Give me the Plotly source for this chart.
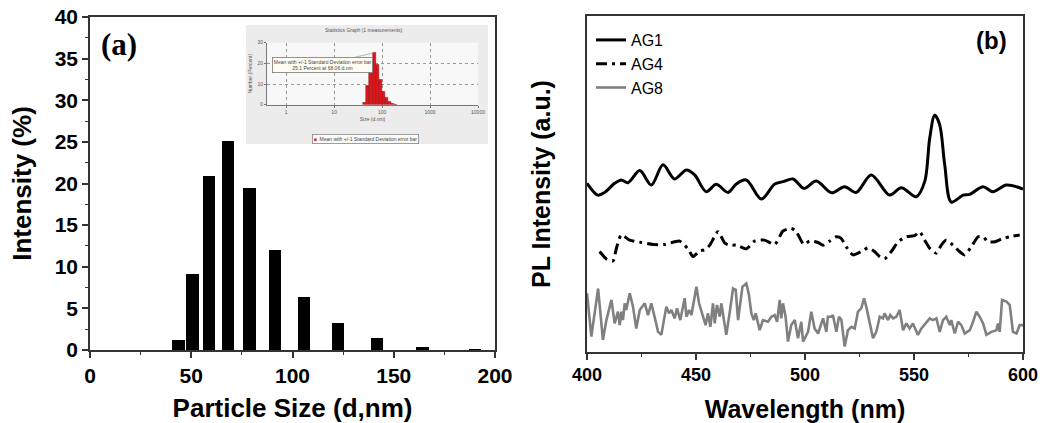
import numpy as np
import plotly.graph_objects as go

# ---------------- Panel (a): particle size distribution ----------------
size_nm = [43.82, 50.75, 58.77, 68.06, 78.82, 91.28, 105.7, 122.4, 141.8, 164.2, 190.1]
intensity_pct = [1.2, 9.1, 20.9, 25.1, 19.5, 12.0, 6.4, 3.2, 1.5, 0.4, 0.05]
a_xticks = [0, 50, 100, 150, 200]
a_yticks = [0, 5, 10, 15, 20, 25, 30, 35, 40]
inset_xticks = [0, 1, 2, 3, 4]
inset_xticklabels = ["1", "10", "100", "1000", "10000"]

# ---------------- Panel (b): PL spectra ----------------
ag1_wl = [400.0, 405.0, 408.1, 412.7, 415.7, 418.8, 424.2, 429.5, 434.9, 440.2, 445.6, 449.4,
          454.7, 459.3, 464.7, 468.5, 473.1, 480.0, 486.1, 489.9, 494.5, 499.5, 505.2, 512.1,
          518.2, 523.5, 530.4, 538.8, 544.2, 551.0, 554.9, 557.2, 559.5, 561.8, 564.1, 567.1,
          572.5, 575.5, 581.7, 586.2, 592.4, 600.0]
ag1_pl = [50.2, 46.7, 47.5, 50.2, 51.2, 50.4, 54.0, 49.7, 55.7, 51.5, 54.2, 52.7,
          47.7, 49.9, 47.5, 50.0, 51.2, 45.5, 50.0, 50.7, 51.5, 48.7, 50.9, 47.4,
          49.2, 47.5, 52.7, 46.7, 48.9, 46.2, 50.7, 63.6, 70.5, 67.6, 55.7, 44.6,
          46.7, 46.9, 49.2, 47.7, 49.7, 48.5]

ag4_wl = [405.8, 408.9, 411.9, 413.5, 415.7, 419.6, 424.9, 430.3, 435.6, 442.5, 446.3, 448.6,
          451.7, 454.0, 456.3, 460.1, 463.2, 465.5, 468.5, 473.1, 476.9, 481.5, 486.1, 489.9,
          493.7, 496.0, 499.5, 502.1, 506.0, 508.3, 511.3, 514.4, 516.6, 518.9, 522.0, 525.8,
          528.9, 531.9, 534.2, 536.5, 539.6, 542.7, 546.5, 550.3, 552.6, 554.9, 557.2, 560.2,
          562.5, 564.8, 567.9, 570.9, 573.2, 576.3, 579.4, 581.7, 583.9, 587.0, 590.8, 593.9,
          598.5]
ag4_pl = [29.9, 27.7, 27.1, 30.9, 34.8, 33.3, 32.6, 32.0, 32.0, 33.0, 30.7, 28.4,
          30.1, 30.4, 31.8, 35.8, 32.4, 31.8, 31.8, 30.7, 33.0, 33.3, 32.0, 36.0,
          36.8, 35.8, 32.0, 33.0, 32.6, 31.8, 33.0, 34.3, 33.8, 31.3, 28.9, 29.9,
          31.0, 29.9, 28.4, 27.7, 29.9, 32.8, 34.3, 34.6, 35.8, 33.3, 30.9, 29.4,
          31.8, 33.3, 31.8, 29.9, 28.9, 31.3, 34.3, 34.3, 32.8, 32.8, 33.8, 34.3,
          34.8]

ag8_wl = [400.0, 402.0, 405.1, 407.3, 408.9, 411.2, 412.7, 414.2, 415.0, 415.8, 416.5, 417.3,
          418.0, 419.6, 421.1, 422.6, 424.2, 426.5, 428.0, 429.5, 431.0, 432.6, 434.1, 435.2,
          436.4, 437.6, 438.7, 440.2, 441.3, 442.8, 444.0, 444.8, 445.6, 446.8, 447.9, 450.2,
          451.4, 453.2, 454.4, 455.5, 456.6, 457.8, 458.6, 459.6, 460.9, 461.6, 463.9, 465.4,
          467.0, 468.2, 469.3, 471.3, 473.1, 474.3, 475.4, 476.5, 477.4, 479.2, 480.7, 483.0,
          484.6, 486.1, 487.2, 488.4, 489.1, 489.9, 491.1, 492.2, 493.7, 495.3, 496.8, 498.3,
          499.1, 501.4, 502.9, 504.4, 506.0, 507.5, 508.3, 509.8, 510.5, 512.1, 512.8, 514.4,
          515.6, 516.7, 518.2, 519.7, 521.3, 522.8, 524.3, 525.8, 527.1, 528.1, 529.7, 531.2,
          532.7, 534.3, 535.8, 536.5, 538.1, 539.1, 540.4, 541.9, 543.4, 545.0, 546.5, 548.0,
          549.5, 551.8, 553.4, 555.7, 557.2, 558.7, 560.3, 561.8, 563.3, 564.8, 566.4, 567.1,
          568.7, 570.2, 571.7, 573.3, 575.6, 577.1, 578.6, 580.1, 581.7, 583.2, 585.5, 587.8,
          588.5, 589.3, 590.4, 592.4, 593.9, 595.4, 597.0, 598.5, 600.0]
ag8_pl = [17.5, 4.6, 18.9, 3.6, 9.5, 15.5, 8.5, 12.0, 8.0, 12.0, 9.5, 14.5,
          12.5, 17.5, 13.5, 7.0, 12.5, 14.5, 11.0, 14.5, 10.5, 6.0, 5.1, 9.0,
          13.5, 11.5, 12.5, 10.0, 13.0, 9.5, 13.5, 16.0, 10.5, 12.5, 11.0, 19.4,
          14.5, 10.5, 8.0, 11.5, 7.5, 14.5, 8.5, 14.0, 10.5, 14.5, 5.1, 11.5,
          18.9, 18.5, 9.5, 19.4, 20.4, 17.0, 11.5, 9.5, 11.5, 6.5, 9.5, 9.0,
          10.5, 11.0, 9.0, 15.5, 10.0, 14.5, 10.5, 3.1, 8.0, 9.5, 4.1, 9.0,
          3.1, 6.0, 12.0, 7.0, 5.5, 8.5, 10.0, 6.0, 10.5, 10.5, 11.0, 6.0,
          10.5, 9.5, 1.6, 6.5, 7.5, 7.0, 12.0, 13.0, 16.0, 13.5, 8.5, 4.1,
          6.0, 10.5, 10.0, 11.5, 9.5, 11.0, 10.0, 10.5, 12.5, 6.5, 8.5, 7.0,
          8.5, 5.1, 7.0, 9.0, 10.0, 9.5, 10.0, 6.0, 9.5, 10.5, 8.0, 9.5,
          5.5, 9.0, 8.0, 5.5, 6.5, 9.0, 12.0, 10.5, 8.5, 5.1, 6.0, 6.5,
          8.5, 6.0, 15.5, 15.0, 14.0, 6.0, 5.5, 8.0, 8.0]
b_xticks = [400, 450, 500, 550, 600]

# The page body margin is removed by a post-script, so the figure fills the window
W, H = 1040, 423
SANS = "Liberation Sans, Arial, sans-serif"
SERIF = "Liberation Serif, Times New Roman, serif"


def px_x(p):
    return p / W


def px_y(p):
    return 1 - p / H


fig = go.Figure()

# Main bars (a)
fig.add_trace(go.Bar(x=size_nm, y=intensity_pct, width=6.2,
                     marker=dict(color="black", line=dict(width=0)),
                     xaxis="x", yaxis="y", showlegend=False, hoverinfo="x+y"))

# Inset bars (log-scaled size)
log_size = np.log10(size_nm)
bin_w = float(np.mean(np.diff(log_size)))
fig.add_trace(go.Bar(x=log_size, y=intensity_pct, width=bin_w,
                     marker=dict(color="#e3141c", line=dict(color="#8a0a0a", width=0.5)),
                     xaxis="x3", yaxis="y3", showlegend=False))

# PL spectra (b)
fig.add_trace(go.Scatter(x=ag1_wl, y=ag1_pl, mode="lines", name="AG1",
                         line=dict(color="black", width=3, shape="spline", smoothing=0.9),
                         xaxis="x2", yaxis="y2"))
fig.add_trace(go.Scatter(x=ag4_wl, y=ag4_pl, mode="lines", name="AG4",
                         line=dict(color="black", width=3, dash="11px,5px,3px,5px",
                                   shape="spline", smoothing=0.6),
                         xaxis="x2", yaxis="y2"))
fig.add_trace(go.Scatter(x=ag8_wl, y=ag8_pl, mode="lines", name="AG8",
                         line=dict(color="#808080", width=2.6),
                         xaxis="x2", yaxis="y2"))

axis_common = dict(showgrid=False, zeroline=False, showline=True, mirror=True,
                   linecolor="#333333", linewidth=1.5, ticks="outside", ticklen=6,
                   tickwidth=1.5, tickcolor="#333333", automargin=False,
                   ticklabeloverflow="allow")

fig.update_layout(
    width=W, height=H, template="none",
    margin=dict(l=0, r=0, t=0, b=0),
    paper_bgcolor="white", plot_bgcolor="rgba(0,0,0,0)",
    bargap=0,
    xaxis=dict(domain=[px_x(90), px_x(495)], range=[0, 200], anchor="y",
               tickvals=a_xticks, minor=dict(dtick=25, ticks="outside", ticklen=3,
                                             tickcolor="#333333", tickwidth=1.2),
               tickfont=dict(family=SANS, size=21, color="black", weight="bold"),
               title=dict(text="Particle Size (d,nm)", standoff=14,
                          font=dict(family=SANS, size=26, color="black", weight="bold")),
               **axis_common),
    yaxis=dict(domain=[px_y(350), px_y(17)], range=[0, 40], anchor="x",
               tickvals=a_yticks, minor=dict(dtick=2.5, ticks="outside", ticklen=3,
                                             tickcolor="#333333", tickwidth=1.2),
               tickfont=dict(family=SANS, size=21, color="black", weight="bold"),
               title=dict(text="Intensity (%)", standoff=16,
                          font=dict(family=SANS, size=26, color="black", weight="bold")),
               **axis_common),
    xaxis2=dict(domain=[px_x(587), px_x(1023)], range=[400, 600], anchor="y2",
                tickvals=b_xticks, minor=dict(dtick=25, ticks="outside", ticklen=3,
                                              tickcolor="#333333", tickwidth=1.2),
                tickfont=dict(family=SANS, size=18, color="black", weight="bold"),
                title=dict(text="Wavelength (nm)", standoff=16,
                           font=dict(family=SANS, size=25, color="black", weight="bold")),
                **axis_common),
    yaxis2=dict(domain=[px_y(352), px_y(16)], range=[0, 100], anchor="x2",
                showgrid=False, zeroline=False, showline=True, mirror=True,
                linecolor="#333333", linewidth=1.5, ticks="", showticklabels=False,
                automargin=False,
                title=dict(text="PL Intensity (a.u.)", standoff=28,
                           font=dict(family=SANS, size=25, color="black", weight="bold"))),
    xaxis3=dict(domain=[px_x(267), px_x(478)], range=[-0.4, 4.0], anchor="y3",
                tickvals=inset_xticks, ticktext=inset_xticklabels,
                tickfont=dict(family=SANS, size=5, color="#555555"),
                showgrid=True, gridcolor="#9a9a9a", gridwidth=1, griddash="dot",
                zeroline=False, showline=True, linecolor="#777777", linewidth=1,
                ticks="outside", ticklen=2, tickcolor="#777777", automargin=False,
                title=dict(text="Size (d.nm)", standoff=3,
                           font=dict(family=SANS, size=5, color="#555555"))),
    yaxis3=dict(domain=[px_y(104.7), px_y(42.7)], range=[0, 30], anchor="x3",
                tickvals=[0, 10, 20, 30],
                tickfont=dict(family=SANS, size=5, color="#555555"),
                showgrid=True, gridcolor="#9a9a9a", gridwidth=1, griddash="dot",
                zeroline=False, showline=True, linecolor="#777777", linewidth=1,
                ticks="outside", ticklen=2, tickcolor="#777777", automargin=False,
                title=dict(text="Number (Percent)", standoff=4,
                           font=dict(family=SANS, size=5, color="#555555"))),
    legend=dict(x=px_x(591), y=px_y(23), xanchor="left", yanchor="top",
                bgcolor="rgba(0,0,0,0)", borderwidth=0, tracegroupgap=0,
                font=dict(family=SANS, size=16, color="black"), itemwidth=30),
    showlegend=True,
)

# Inset background panels
fig.add_shape(type="rect", xref="paper", yref="paper",
              x0=px_x(246), x1=px_x(488), y0=px_y(144), y1=px_y(25),
              fillcolor="#ececec", line=dict(width=0), layer="below")
fig.add_shape(type="rect", xref="x3 domain", yref="y3 domain", x0=0, x1=1, y0=0, y1=1,
              fillcolor="#f8f8f8", line=dict(width=0), layer="below")

# Inset title
fig.add_annotation(xref="paper", yref="paper", x=px_x(364), y=px_y(30),
                   xanchor="center", yanchor="middle",
                   text="Statistics Graph (1 measurements)", showarrow=False,
                   font=dict(family=SANS, size=5, color="#555555"))
# Inset peak annotation box
peak_i = int(np.argmax(intensity_pct))
fig.add_annotation(xref="x3", yref="y3", x=log_size[peak_i], y=intensity_pct[peak_i],
                   text="Mean with +/-1 Standard Deviation error bar<br>"
                        f"{intensity_pct[peak_i]:.1f} Percent at {size_nm[peak_i]:.2f} d.nm",
                   showarrow=True, arrowhead=0, arrowwidth=0.6, arrowcolor="#888888",
                   ax=-52, ay=12, bgcolor="#fffdf2", bordercolor="#777777",
                   borderwidth=0.8, borderpad=1,
                   font=dict(family=SANS, size=5, color="#444444"))
# Inset legend
fig.add_annotation(xref="paper", yref="paper", x=px_x(365), y=px_y(139),
                   xanchor="center", yanchor="middle",
                   text="<span style='color:#e3141c'>\u25A0</span>  Mean with +/-1 Standard Deviation error bar",
                   showarrow=False, bgcolor="#fafafa", bordercolor="#888888",
                   borderwidth=0.8, borderpad=1,
                   font=dict(family=SANS, size=5, color="#444444"))

# Panel labels
fig.add_annotation(xref="paper", yref="paper", x=px_x(119), y=px_y(44),
                   xanchor="center", yanchor="middle",
                   text="(a)", showarrow=False,
                   font=dict(family=SERIF, size=31, color="black", weight="bold"))
fig.add_annotation(xref="paper", yref="paper", x=px_x(991), y=px_y(40),
                   xanchor="center", yanchor="middle",
                   text="(b)", showarrow=False,
                   font=dict(family=SANS, size=24, color="black", weight="bold"))

fig.write_html("out.html",
               config={"displayModeBar": False},
               post_script="document.body.style.margin='0px';"
                           "document.documentElement.style.overflow='hidden';")
